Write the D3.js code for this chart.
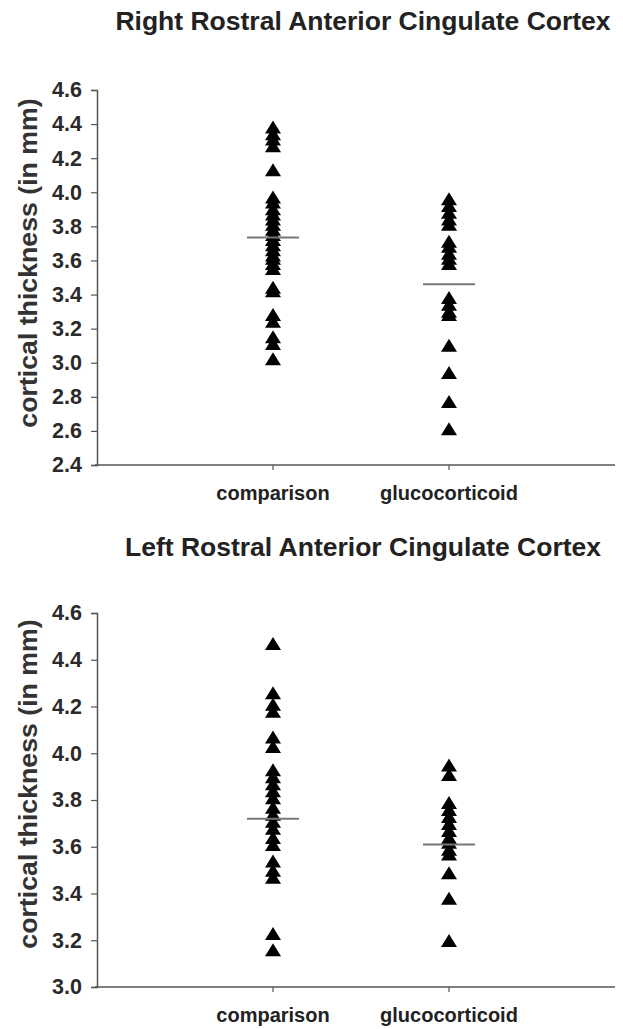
<!DOCTYPE html>
<html>
<head>
<meta charset="utf-8">
<script src="https://cdn.jsdelivr.net/npm/d3@7"></script>
<style>
  body { margin: 0; background: #fff; }
  svg { display: block; font-family: "Liberation Sans", Arial, sans-serif; font-weight: bold; }
</style>
</head>
<body>
<div id="chart"></div>
<script>
// groups on the x axis
const groups = ["comparison", "glucocorticoid"];

// right rostral anterior cingulate cortex (mm)
const rightComparison = [4.37, 4.33, 4.30, 4.26, 4.12, 3.96, 3.93, 3.89, 3.86, 3.83, 3.80, 3.77, 3.74,
  3.71, 3.68, 3.65, 3.62, 3.60, 3.57, 3.54, 3.43, 3.41, 3.27, 3.23, 3.14, 3.10, 3.01];
const rightGluco = [3.95, 3.91, 3.87, 3.83, 3.80, 3.70, 3.67, 3.63, 3.60, 3.57, 3.37, 3.33, 3.29, 3.27,
  3.09, 2.93, 2.76, 2.60];
const rightMeans = [3.735, 3.46];
const rightTicks = [2.4, 2.6, 2.8, 3.0, 3.2, 3.4, 3.6, 3.8, 4.0, 4.2, 4.4, 4.6];

// left rostral anterior cingulate cortex (mm)
const leftComparison = [4.46, 4.25, 4.20, 4.17, 4.06, 4.02, 3.92, 3.89, 3.86, 3.83, 3.80, 3.76, 3.73,
  3.70, 3.67, 3.63, 3.60, 3.53, 3.49, 3.46, 3.22, 3.15];
const leftGluco = [3.94, 3.90, 3.78, 3.75, 3.72, 3.69, 3.66, 3.63, 3.61, 3.58, 3.56, 3.48, 3.37, 3.19];
const leftMeans = [3.72, 3.61];
const leftTicks = [3.0, 3.2, 3.4, 3.6, 3.8, 4.0, 4.2, 4.4, 4.6];

const width = 623;
const height = 1029;

const svg = d3.select("#chart")
  .append("svg")
  .attr("width", width)
  .attr("height", height);

// triangle marker, a bit wider than tall like the original
const triW = 16, triH = 13;
const triangle = `M0,${-triH * 2 / 3}L${triW / 2},${triH / 3}L${-triW / 2},${triH / 3}Z`;

function panel(cfg) {
  const g = svg.append("g");

  const y = d3.scaleLinear()
    .domain(d3.extent(cfg.ticks))
    .range([cfg.bottom, cfg.top]);

  const x = d3.scalePoint()
    .domain(groups)
    .range([273, 449]);

  // title
  g.append("text")
    .attr("x", 363)
    .attr("y", cfg.titleY)
    .attr("text-anchor", "middle")
    .attr("font-size", "26.5px")
    .attr("fill", "#222")
    .text(cfg.title);

  // y axis
  const yAxis = g.append("g")
    .attr("transform", `translate(97,0)`)
    .call(d3.axisLeft(y).tickValues(cfg.ticks).tickFormat(d3.format(".1f")).tickSize(6).tickPadding(9));
  yAxis.select(".domain").attr("stroke", "#555").attr("stroke-width", 1.5);
  yAxis.selectAll(".tick line").attr("stroke", "#555").attr("stroke-width", 1.2);
  yAxis.selectAll(".tick text")
    .attr("font-size", "21.5px")
    .attr("font-family", "Liberation Sans, Arial, sans-serif")
    .attr("font-weight", "bold")
    .attr("fill", "#2a2a2a");

  // x axis
  const xAxis = g.append("g")
    .attr("transform", `translate(0,${cfg.bottom})`);
  xAxis.append("line")
    .attr("x1", 95).attr("x2", 615)
    .attr("stroke", "#555").attr("stroke-width", 1.5);
  xAxis.selectAll(".xt")
    .data(groups)
    .enter()
    .append("line")
    .attr("class", "xt")
    .attr("x1", d => x(d)).attr("x2", d => x(d))
    .attr("y1", 0).attr("y2", 5)
    .attr("stroke", "#555").attr("stroke-width", 1.2);
  xAxis.selectAll(".xl")
    .data(groups)
    .enter()
    .append("text")
    .attr("class", "xl")
    .attr("x", d => x(d))
    .attr("y", 35)
    .attr("text-anchor", "middle")
    .attr("font-size", "20px")
    .attr("fill", "#222")
    .text(d => d);

  // y title
  g.append("text")
    .attr("transform", `translate(37,${cfg.yTitleY}) rotate(-90)`)
    .attr("text-anchor", "middle")
    .attr("font-size", "26.7px")
    .attr("fill", "#333")
    .text("cortical thickness (in mm)");

  // points
  const pts = [];
  cfg.series.forEach((vals, i) => vals.forEach(v => pts.push({ group: groups[i], v: v })));
  g.selectAll(".pt")
    .data(pts)
    .enter()
    .append("path")
    .attr("class", "pt")
    .attr("d", triangle)
    .attr("transform", d => `translate(${x(d.group)},${y(d.v)})`)
    .attr("fill", "#000");

  // mean lines
  g.selectAll(".mean")
    .data(cfg.means)
    .enter()
    .append("line")
    .attr("class", "mean")
    .attr("x1", (d, i) => x(groups[i]) - 26)
    .attr("x2", (d, i) => x(groups[i]) + 26)
    .attr("y1", d => y(d))
    .attr("y2", d => y(d))
    .attr("stroke", "#777")
    .attr("stroke-width", 2);
}

panel({
  title: "Right Rostral Anterior Cingulate Cortex",
  titleY: 30,
  top: 90, bottom: 465,
  ticks: rightTicks,
  yTitleY: 263,
  series: [rightComparison, rightGluco],
  means: rightMeans
});

panel({
  title: "Left Rostral Anterior Cingulate Cortex",
  titleY: 556,
  top: 613, bottom: 987,
  ticks: leftTicks,
  yTitleY: 784,
  series: [leftComparison, leftGluco],
  means: leftMeans
});
</script>
</body>
</html>
